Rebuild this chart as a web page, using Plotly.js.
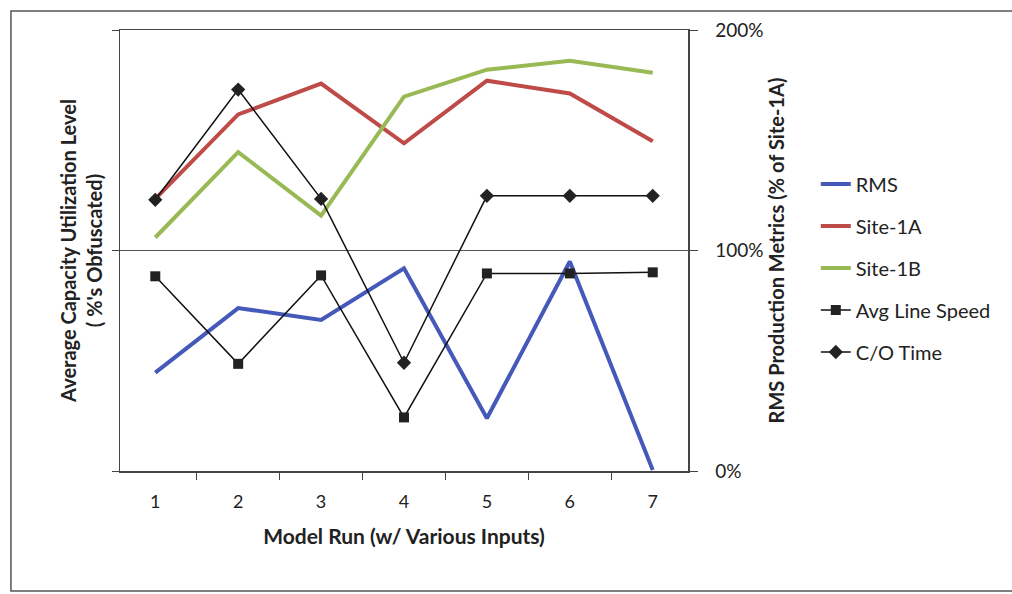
<!DOCTYPE html>
<html>
<head>
<meta charset="utf-8">
<script src="https://cdn.plot.ly/plotly-3.0.1.min.js"></script>
<style>html,body{margin:0;padding:0;background:#fff;}#chart{width:1012px;height:594px;}</style>
</head>
<body>
<div id="chart"></div>
<script>
const runs = ['1','2','3','4','5','6','7'];
const rms = [44.6, 73.9, 68.5, 91.9, 23.9, 95.0, 0.5];
const site1A = [123.4, 161.7, 175.7, 148.6, 177.0, 171.2, 149.5];
const site1B = [105.9, 144.6, 115.8, 169.8, 182.0, 186.0, 180.6];
const avgLineSpeed = [88.3, 48.6, 88.7, 24.3, 89.6, 89.6, 90.1];
const coTime = [123.0, 173.0, 123.4, 49.1, 124.8, 124.8, 124.8];
const rightTickVals = [0, 100, 200];
const rightTickText = ['0%', '100%', '200%'];

const FONT = 'Lato, "Open Sans", sans-serif';

const traces = [
  {x: runs, y: rms, name: 'RMS', mode: 'lines', line: {color: '#4459b9', width: 4}, yaxis: 'y', legendgroup: 'a'},
  {x: runs, y: site1A, name: 'Site-1A', mode: 'lines', line: {color: '#be4b48', width: 4}, yaxis: 'y', legendgroup: 'b'},
  {x: runs, y: site1B, name: 'Site-1B', mode: 'lines', line: {color: '#98b954', width: 4}, yaxis: 'y', legendgroup: 'c'},
  {x: runs, y: avgLineSpeed, name: 'Avg Line Speed', mode: 'lines+markers', line: {color: '#111', width: 1.5}, marker: {symbol: 'square', size: 10, color: '#222'}, yaxis: 'y2', legendgroup: 'd'},
  {x: runs, y: coTime, name: 'C/O Time', mode: 'lines+markers', line: {color: '#111', width: 1.5}, marker: {symbol: 'diamond', size: 11, color: '#222'}, yaxis: 'y2', legendgroup: 'e'}
];

const layout = {
  width: 1012, height: 594,
  margin: {l: 120, r: 324, t: 30, b: 123},
  paper_bgcolor: '#fff', plot_bgcolor: '#fff',
  font: {family: FONT, size: 18, color: '#222'},
  showlegend: true,
  legend: {x: 1.225, y: 0.695, xanchor: 'left', yanchor: 'top', font: {size: 20, family: FONT, color: '#222'}, tracegroupgap: 13, traceorder: 'grouped', bgcolor: 'rgba(0,0,0,0)'},
  xaxis: {
    type: 'category', tickson: 'boundaries', ticks: 'outside', ticklen: 7, tickcolor: '#444',
    showline: true, linecolor: '#444', linewidth: 1.5, mirror: true, showgrid: false,
    tickfont: {size: 18}, ticklabelstandoff: 14,
    title: {text: '<b>Model Run (w/ Various Inputs)</b>', font: {size: 21}, standoff: 18}
  },
  yaxis: {
    range: [0, 200], tickvals: rightTickVals, showticklabels: false, ticks: 'outside', ticklen: 7, tickcolor: '#444',
    showline: true, linecolor: '#444', linewidth: 1.5, showgrid: true, gridcolor: '#555', gridwidth: 1.5, zeroline: false,
    title: {text: '<b>Average Capacity Utilization Level<br>( %\'s Obfuscated)</b>', font: {size: 20}, standoff: 3}
  },
  yaxis2: {
    range: [0, 200], overlaying: 'y', side: 'right', tickvals: rightTickVals, ticktext: rightTickText,
    ticks: 'outside', ticklen: 8, tickcolor: '#444', showline: true, linecolor: '#444', linewidth: 1.5,
    showgrid: false, zeroline: false, tickfont: {size: 19}, ticklabelstandoff: 14,
    title: {text: '<b>RMS Production Metrics (% of Site-1A)</b>', font: {size: 20}, standoff: 0}
  },
  shapes: [
    {type: 'rect', xref: 'paper', yref: 'paper', x0: -0.192, x1: 1.59, y0: -0.272, y1: 1.043, line: {color: '#555', width: 1.5}}
  ]
};

Plotly.newPlot('chart', traces, layout, {displayModeBar: false, staticPlot: true});
</script>
</body>
</html>
